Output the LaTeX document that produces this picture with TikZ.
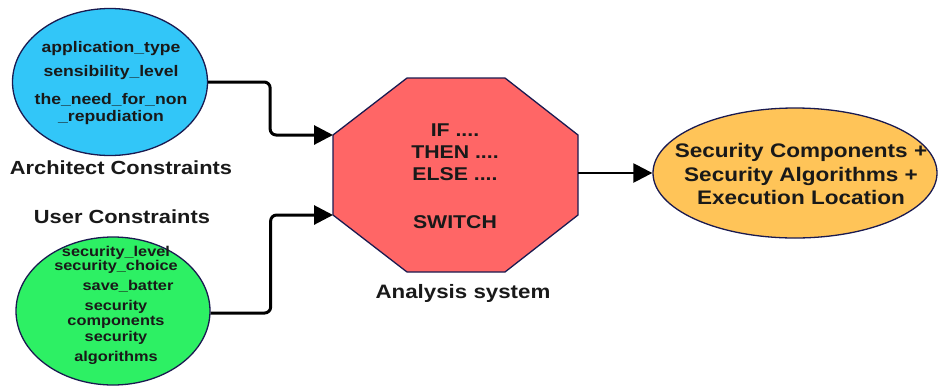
\documentclass[tikz,border=0pt]{standalone}
\usepackage{fontspec}
\setmainfont{Liberation Sans}[FakeStretch=1.15]
\usepackage{tikz}
\usetikzlibrary{arrows.meta,calc,shapes.geometric,positioning}
\definecolor{archblue}{RGB}{50,198,248}
\definecolor{usergreen}{RGB}{45,240,100}
\definecolor{octred}{RGB}{255,102,102}
\definecolor{resorange}{RGB}{255,196,88}
\definecolor{rim}{RGB}{26,26,80}
\definecolor{ink}{RGB}{25,25,25}

\begin{document}
\begin{tikzpicture}[x=1pt,y=-1pt,>=Stealth,
    blob/.style={ellipse,draw=rim,line width=1.3pt,inner sep=0pt},
    txt/.style={text=ink,font=\bfseries,align=center,inner sep=0pt},
    flow/.style={line width=3pt,rounded corners=6pt,-{Triangle[length=19pt,width=19pt]}}]
  \useasboundingbox (0,0) rectangle (939,389);
  % architect constraints
  \node[blob,fill=archblue,minimum width=195pt,minimum height=147pt] (ac) at (110,82) {};
  \node[txt,font=\bfseries\fontsize{15.3}{20}\selectfont] (actext) at (111,83)
    {application\_type\\[4pt] sensibility\_level\\[8pt] the\_need\_for\_non\\[-3pt] \_repudiation};
  \node[txt,font=\bfseries\fontsize{19}{22}\selectfont] (aclabel) at (121,168) {Architect Constraints};
  % user constraints
  \node[txt,font=\bfseries\fontsize{19}{22}\selectfont] (uclabel) at (122,217) {User Constraints};
  \node[blob,fill=usergreen,minimum width=194pt,minimum height=148pt] (uc) at (113,311) {};
  \node[txt,font=\bfseries\fontsize{14.2}{17}\selectfont] (uctext) at (116,305.5)
    {security\_level\\[-3pt] security\_choice\\[3pt] \hspace*{24pt}save\_batter\\[3pt] security\\[-2pt]
     components\\[-1pt] security\\[3pt] algorithms};
  % analysis system
  \coordinate (o1) at (407,78);  \coordinate (o2) at (505,78);
  \coordinate (o3) at (578,135); \coordinate (o4) at (578,215);
  \coordinate (o5) at (505,272); \coordinate (o6) at (407,272);
  \coordinate (o7) at (333,215); \coordinate (o8) at (333,135);
  \filldraw[fill=octred,draw=rim,line width=1.3pt] (o1) -- (o2) -- (o3) -- (o4) -- (o5) -- (o6) -- (o7) -- (o8) -- cycle;
  \coordinate (oe) at (578,173);
  \node[txt,font=\bfseries\fontsize{18.5}{22}\selectfont] (rules) at (455,176)
    {IF ....\\ THEN ....\\ ELSE ....\\[26pt] SWITCH};
  \node[txt,font=\bfseries\fontsize{19.4}{22}\selectfont] (analabel) at (463,293) {Analysis system};
  % result
  \node[blob,fill=resorange,minimum width=284pt,minimum height=130pt] (res) at (795,173) {};
  \node[txt,font=\bfseries\fontsize{19.6}{23.5}\selectfont] (restext) at (801,174)
    {Security Components +\\ Security Algorithms +\\ Execution Location};
  % connectors
  \draw[flow] (ac.east) -- ++(62,0) |- (o8);
  \draw[flow] ($(uc.east)+(0,2)$) -- ++(60,0) |- (o7);
  \draw[flow,line width=2.4pt] (oe) -- (res.west);
\end{tikzpicture}
\end{document}
